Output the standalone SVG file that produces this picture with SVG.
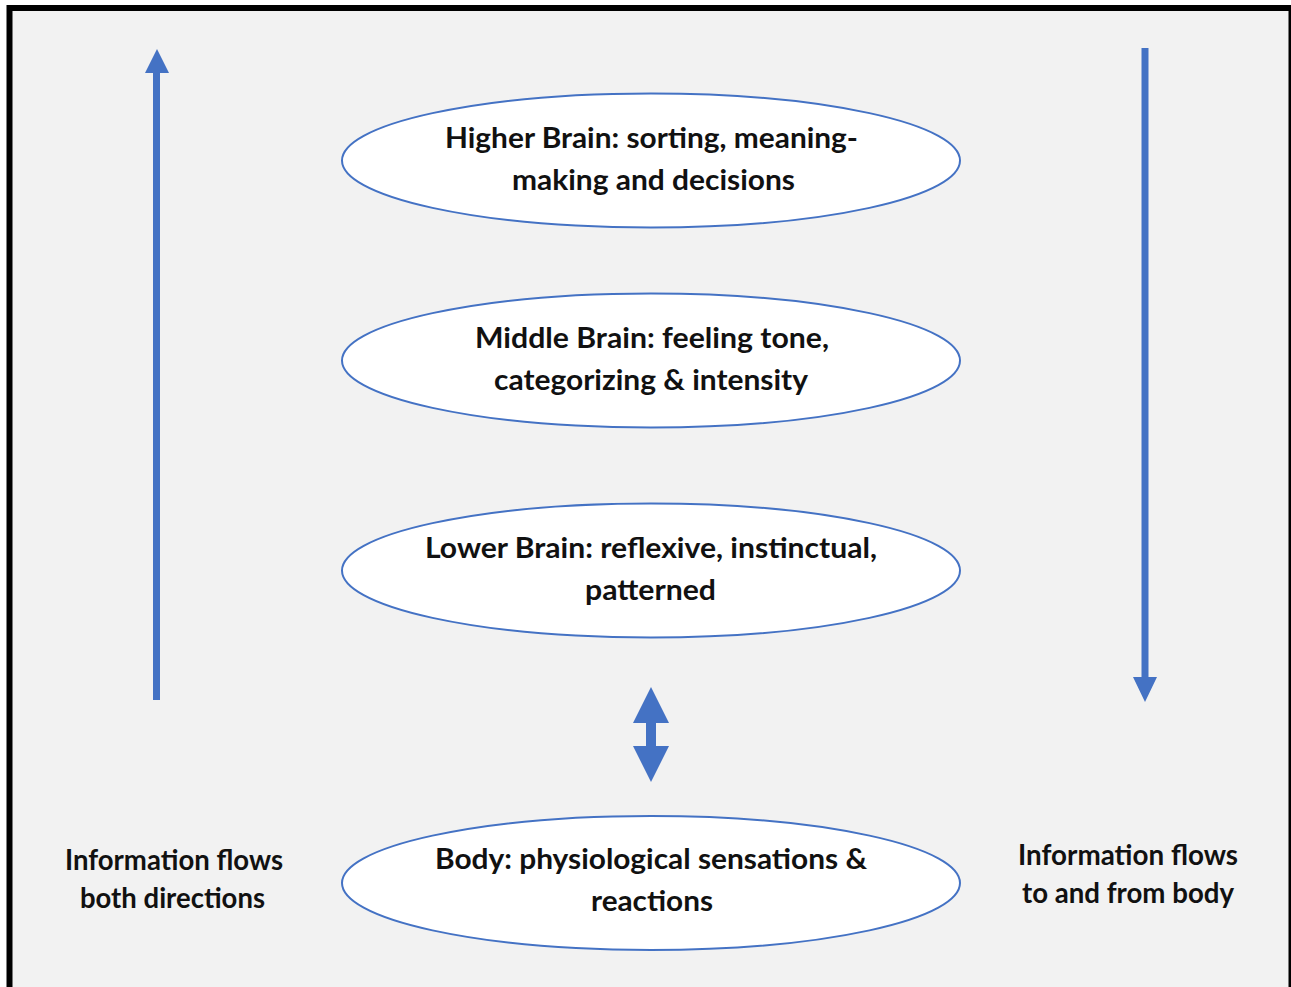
<svg xmlns="http://www.w3.org/2000/svg" width="1291" height="987" viewBox="0 0 1291 987">
<defs>
<style>
.node ellipse{fill:#ffffff;stroke:#4472c4;stroke-width:2}
.t{font-family:Lato,"Open Sans","Liberation Sans",sans-serif;font-weight:700;font-size:28px;fill:#111111;text-anchor:middle}
.arrow{fill:#4472c4}
</style>
</defs>
<rect x="0" y="0" width="1291" height="987" fill="#ffffff"/>
<rect x="9.5" y="8" width="1282" height="990" fill="#f2f2f2" stroke="#000000" stroke-width="6"/>
<g id="connectors">
<path class="arrow" d="M153,700 L153,73 L145,73 L157,49 L169,73 L160,73 L160,700 Z"/>
<path class="arrow" d="M1141.5,48 L1148.5,48 L1148.5,677 L1157,677 L1145,702 L1133,677 L1141.5,677 Z"/>
<path class="arrow" d="M651,687 L669,723 L656,723 L656,746 L669,746 L651,782 L633,746 L646,746 L646,723 L633,723 Z"/>
</g>
<g id="higher" class="node">
<ellipse cx="651" cy="160.5" rx="309" ry="67"/>
<text class="t" x="651.5" y="148" textLength="413" lengthAdjust="spacingAndGlyphs">Higher Brain: sorting, meaning-</text>
<text class="t" x="653.5" y="190" textLength="283" lengthAdjust="spacingAndGlyphs">making and decisions</text>
</g>
<g id="middle" class="node">
<ellipse cx="651" cy="360.5" rx="309" ry="67"/>
<text class="t" x="652" y="348" textLength="354" lengthAdjust="spacingAndGlyphs">Middle Brain: feeling tone,</text>
<text class="t" x="651" y="390" textLength="314" lengthAdjust="spacingAndGlyphs">categorizing &amp; intensity</text>
</g>
<g id="lower" class="node">
<ellipse cx="651" cy="570.5" rx="309" ry="67"/>
<text class="t" x="651" y="558" textLength="452" lengthAdjust="spacingAndGlyphs">Lower Brain: reflexive, instinctual,</text>
<text class="t" x="650.5" y="600" textLength="131" lengthAdjust="spacingAndGlyphs">patterned</text>
</g>
<g id="body" class="node">
<ellipse cx="651" cy="883" rx="309" ry="67"/>
<text class="t" x="651" y="869" textLength="432" lengthAdjust="spacingAndGlyphs">Body: physiological sensations &amp;</text>
<text class="t" x="652" y="911" textLength="122" lengthAdjust="spacingAndGlyphs">reactions</text>
</g>
<g id="label-left">
<text class="t" x="174" y="870" textLength="218" lengthAdjust="spacingAndGlyphs">Information flows</text>
<text class="t" x="172.5" y="908" textLength="185" lengthAdjust="spacingAndGlyphs">both directions</text>
</g>
<g id="label-right">
<text class="t" x="1128" y="865" textLength="220" lengthAdjust="spacingAndGlyphs">Information flows</text>
<text class="t" x="1128" y="903" textLength="212" lengthAdjust="spacingAndGlyphs">to and from body</text>
</g>
</svg>
